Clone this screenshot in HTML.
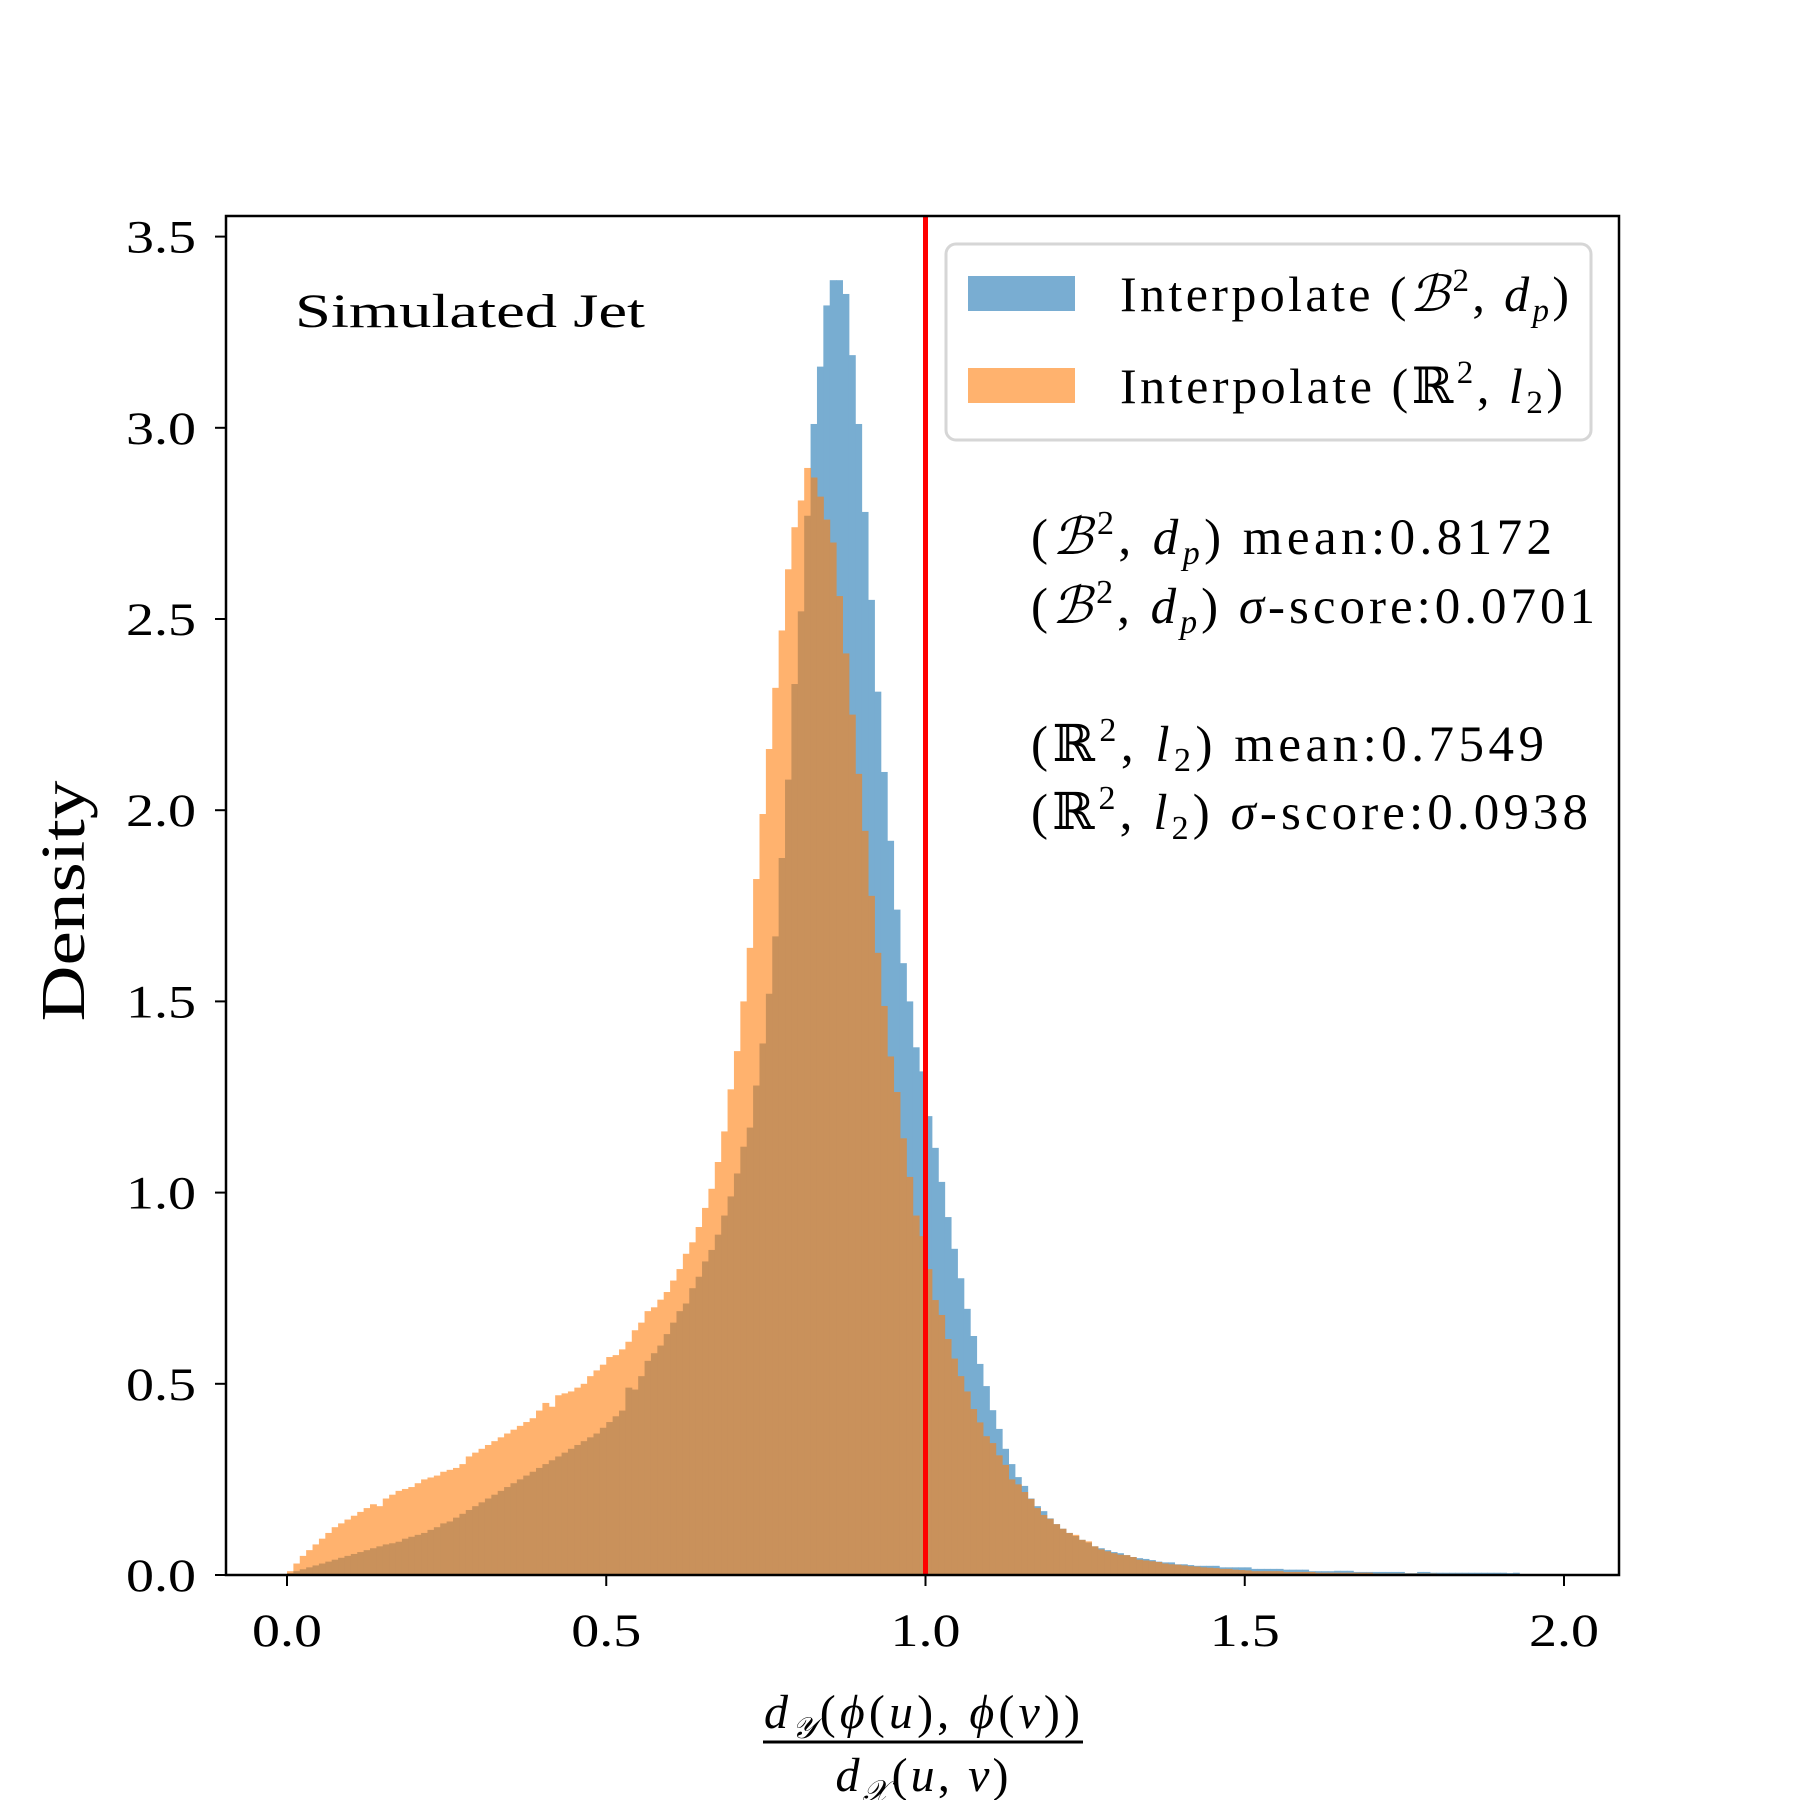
<!DOCTYPE html>
<html><head><meta charset="utf-8"><style>
html,body{margin:0;padding:0;background:#fff;}
svg{display:block;font-family:"Liberation Serif","DejaVu Serif",serif;}
</style></head><body>
<svg id="chart" width="1800" height="1800" viewBox="0 0 1800 1800">
<rect width="1800" height="1800" fill="#fff"/>
<g id="bars-blue" opacity="0.6"></g>
<g id="bars-orange" opacity="0.6"></g>
<g id="ticks"></g>
<line id="refline" stroke="#ff0000" stroke-width="5"/>
<rect x="226" y="216" width="1393" height="1359" fill="none" stroke="#000" stroke-width="2.5"/>
<text x="295" y="327" font-size="48" textLength="350" lengthAdjust="spacingAndGlyphs">Simulated Jet</text>
<g>
<rect x="946" y="244" width="645" height="196" rx="10" fill="#fff" fill-opacity="0.8" stroke="#d6d6d6" stroke-width="3"/>
<rect x="968" y="276" width="107" height="35" fill="#1f77b4" fill-opacity="0.6"/>
<rect x="968" y="368" width="107" height="35" fill="#ff7f0e" fill-opacity="0.6"/>
<text x="1120" y="311" font-size="50" textLength="449" lengthAdjust="spacing">Interpolate (<tspan font-style="italic">ℬ</tspan><tspan font-size="33" dy="-20">2</tspan><tspan dy="20">, </tspan><tspan font-style="italic">d</tspan><tspan font-style="italic" font-size="33" dy="10">p</tspan><tspan dy="-10">)</tspan></text>
<text x="1120" y="403" font-size="50" textLength="443" lengthAdjust="spacing">Interpolate (ℝ<tspan font-size="33" dy="-20">2</tspan><tspan dy="20">, </tspan><tspan font-style="italic">l</tspan><tspan font-size="33" dy="10">2</tspan><tspan dy="-10">)</tspan></text>
</g>
<g font-size="51">
<text x="1031" y="554" textLength="521" lengthAdjust="spacing">(<tspan font-style="italic">ℬ</tspan><tspan font-size="34" dy="-20">2</tspan><tspan dy="20">, </tspan><tspan font-style="italic">d</tspan><tspan font-style="italic" font-size="34" dy="10">p</tspan><tspan dy="-10">) mean:0.8172</tspan></text>
<text x="1031" y="623" textLength="564" lengthAdjust="spacing">(<tspan font-style="italic">ℬ</tspan><tspan font-size="34" dy="-20">2</tspan><tspan dy="20">, </tspan><tspan font-style="italic">d</tspan><tspan font-style="italic" font-size="34" dy="10">p</tspan><tspan dy="-10">) </tspan><tspan font-style="italic">σ</tspan>-score:0.0701</text>
<text x="1031" y="761" textLength="513" lengthAdjust="spacing">(ℝ<tspan font-size="34" dy="-20">2</tspan><tspan dy="20">, </tspan><tspan font-style="italic">l</tspan><tspan font-size="34" dy="10">2</tspan><tspan dy="-10">) mean:0.7549</tspan></text>
<text x="1031" y="829" textLength="557" lengthAdjust="spacing">(ℝ<tspan font-size="34" dy="-20">2</tspan><tspan dy="20">, </tspan><tspan font-style="italic">l</tspan><tspan font-size="34" dy="10">2</tspan><tspan dy="-10">) </tspan><tspan font-style="italic">σ</tspan>-score:0.0938</text>
</g>
<text transform="translate(84,901) rotate(-90)" text-anchor="middle" font-size="62" textLength="241" lengthAdjust="spacingAndGlyphs">Density</text>
<g>
<text x="922" y="1728" text-anchor="middle" font-size="48" font-style="italic" textLength="316" lengthAdjust="spacing">d<tspan font-size="30" dy="10">𝒴</tspan><tspan dy="-10" font-style="normal">(</tspan>ϕ<tspan font-style="normal">(</tspan>u<tspan font-style="normal">), </tspan>ϕ<tspan font-style="normal">(</tspan>v<tspan font-style="normal">))</tspan></text>
<line x1="763" y1="1742" x2="1083" y2="1742" stroke="#000" stroke-width="3"/>
<text x="922" y="1791" text-anchor="middle" font-size="48" font-style="italic" textLength="173" lengthAdjust="spacing">d<tspan font-size="30" dy="10">𝒳</tspan><tspan dy="-10" font-style="normal">(</tspan>u<tspan font-style="normal">, </tspan>v<tspan font-style="normal">)</tspan></text>
</g>
</svg>
<script>
const binStart = 0.0;
const binWidth = 0.01;
const blueDensity = [
0.005,0.01,0.015,0.02,0.025,0.03,0.035,0.04,0.045,0.05,
0.055,0.06,0.065,0.07,0.075,0.08,0.083,0.087,0.095,0.10,
0.105,0.11,0.118,0.125,0.135,0.14,0.15,0.16,0.17,0.18,
0.19,0.20,0.21,0.22,0.23,0.24,0.25,0.26,0.27,0.28,
0.29,0.30,0.31,0.32,0.33,0.34,0.35,0.36,0.37,0.385,
0.40,0.415,0.43,0.49,0.485,0.52,0.56,0.58,0.60,0.63,
0.66,0.69,0.71,0.75,0.78,0.82,0.85,0.89,0.94,0.99,
1.05,1.12,1.17,1.28,1.39,1.52,1.67,1.875,2.08,2.33,
2.52,2.77,3.01,3.16,3.32,3.386,3.386,3.35,3.19,3.01,
2.78,2.55,2.31,2.10,1.92,1.74,1.60,1.50,1.38,1.317,
1.20,1.117,1.028,0.936,0.853,0.776,0.696,0.625,0.552,0.494,
0.431,0.382,0.33,0.29,0.256,0.233,0.20,0.18,0.167,0.148,
0.133,0.121,0.11,0.102,0.092,0.085,0.075,0.07,0.065,0.06,
0.057,0.052,0.047,0.044,0.042,0.039,0.035,0.033,0.033,0.028,
0.028,0.026,0.024,0.024,0.024,0.024,0.02,0.02,0.02,0.02,
0.02,0.016,0.016,0.016,0.016,0.016,0.014,0.014,0.014,0.014,
0.01,0.01,0.01,0.01,0.011,0.011,0.011,0.008,0.008,0.008,
0.008,0.008,0.008,0.008,0.008,0.005,0.005,0.008,0.008,0.006,
0.006,0.006,0.006,0.006,0.006,0.006,0.006,0.006,0.006,0.006,
0.006,0.005,0.006,0,0,0,0,0,0,0];
const orangeDensity = [
0.01,0.03,0.05,0.065,0.08,0.095,0.11,0.125,0.135,0.145,
0.155,0.165,0.175,0.185,0.18,0.20,0.21,0.22,0.225,0.23,
0.24,0.25,0.255,0.26,0.27,0.275,0.28,0.29,0.31,0.32,
0.33,0.34,0.35,0.36,0.37,0.38,0.39,0.40,0.41,0.43,
0.45,0.44,0.47,0.475,0.48,0.49,0.50,0.52,0.535,0.55,
0.57,0.575,0.59,0.61,0.64,0.66,0.69,0.70,0.72,0.74,
0.77,0.80,0.84,0.87,0.91,0.96,1.01,1.08,1.16,1.27,
1.37,1.50,1.64,1.82,1.99,2.16,2.32,2.47,2.63,2.74,
2.81,2.895,2.87,2.82,2.76,2.70,2.56,2.41,2.25,2.095,
1.946,1.776,1.627,1.488,1.356,1.263,1.142,1.041,0.94,0.886,
0.80,0.719,0.68,0.617,0.566,0.52,0.48,0.434,0.399,0.363,
0.345,0.313,0.288,0.25,0.237,0.217,0.199,0.175,0.157,0.147,
0.133,0.121,0.11,0.105,0.092,0.088,0.075,0.067,0.062,0.057,
0.053,0.052,0.047,0.04,0.038,0.036,0.034,0.03,0.028,0.027,
0.025,0.023,0.022,0.02,0.019,0.018,0.016,0.016,0.014,0.013,
0.012,0.01,0.01,0.01,0.01,0.01,0.008,0.008,0.008,0.008,
0.008,0.006,0.006,0.006,0.006,0.006,0.006,0.006,0.006,0.006,
0.004,0.004,0.004,0.004,0.004,0.004,0.004,0.004,0.004,0.004,
0.003,0.003,0.003,0.003,0.003,0,0,0,0,0,
0,0,0,0,0,0,0,0,0,0];
const xTicks = [0.0, 0.5, 1.0, 1.5, 2.0];
const xTickLabels = ["0.0","0.5","1.0","1.5","2.0"];
const yTicks = [0, 0.5, 1.0, 1.5, 2.0, 2.5, 3.0, 3.5];
const yTickLabels = ["0.0","0.5","1.0","1.5","2.0","2.5","3.0","3.5"];
const refValue = 1.0;

const NS = "http://www.w3.org/2000/svg";
function xScale(v){ return 287 + v * 638.5; }
function yScale(v){ return 1575 - v * 382.4; }

function drawSeries(gid, arr, color, name){
  const g = document.getElementById(gid);
  arr.forEach((d, i) => {
    if (d <= 0) return;
    const x0 = xScale(binStart + i * binWidth);
    const x1 = xScale(binStart + (i + 1) * binWidth);
    const r = document.createElementNS(NS, "rect");
    r.setAttribute("x", x0.toFixed(2));
    r.setAttribute("width", (x1 - x0 + 0.5).toFixed(2));
    r.setAttribute("y", yScale(d).toFixed(2));
    r.setAttribute("height", (yScale(0) - yScale(d)).toFixed(2));
    r.setAttribute("fill", color);
    
    
    g.appendChild(r);
  });
}
drawSeries("bars-blue", blueDensity, "#1f77b4", "b2-dp");
drawSeries("bars-orange", orangeDensity, "#ff7f0e", "r2-l2");

const ref = document.getElementById("refline");
ref.setAttribute("x1", xScale(refValue));
ref.setAttribute("x2", xScale(refValue));
ref.setAttribute("y1", 216);
ref.setAttribute("y2", 1575);

const tg = document.getElementById("ticks");
xTicks.forEach((v, i) => {
  const l = document.createElementNS(NS, "line");
  l.setAttribute("x1", xScale(v)); l.setAttribute("x2", xScale(v));
  l.setAttribute("y1", 1575); l.setAttribute("y2", 1586);
  l.setAttribute("stroke", "#000"); l.setAttribute("stroke-width", "2");
  
  
  tg.appendChild(l);
  const t = document.createElementNS(NS, "text");
  t.setAttribute("x", xScale(v)); t.setAttribute("y", 1646);
  t.setAttribute("text-anchor", "middle"); t.setAttribute("font-size", "47");
  t.setAttribute("textLength", "70"); t.setAttribute("lengthAdjust", "spacingAndGlyphs");
  t.textContent = xTickLabels[i];
  
  
  tg.appendChild(t);
});
yTicks.forEach((v, i) => {
  const l = document.createElementNS(NS, "line");
  l.setAttribute("x1", 215); l.setAttribute("x2", 226);
  l.setAttribute("y1", yScale(v)); l.setAttribute("y2", yScale(v));
  l.setAttribute("stroke", "#000"); l.setAttribute("stroke-width", "2");
  
  
  tg.appendChild(l);
  const t = document.createElementNS(NS, "text");
  t.setAttribute("x", 196); t.setAttribute("y", yScale(v) + 16);
  t.setAttribute("text-anchor", "end"); t.setAttribute("font-size", "47");
  t.setAttribute("textLength", "70"); t.setAttribute("lengthAdjust", "spacingAndGlyphs");
  t.textContent = yTickLabels[i];
  
  
  tg.appendChild(t);
});
</script>
</body></html>
